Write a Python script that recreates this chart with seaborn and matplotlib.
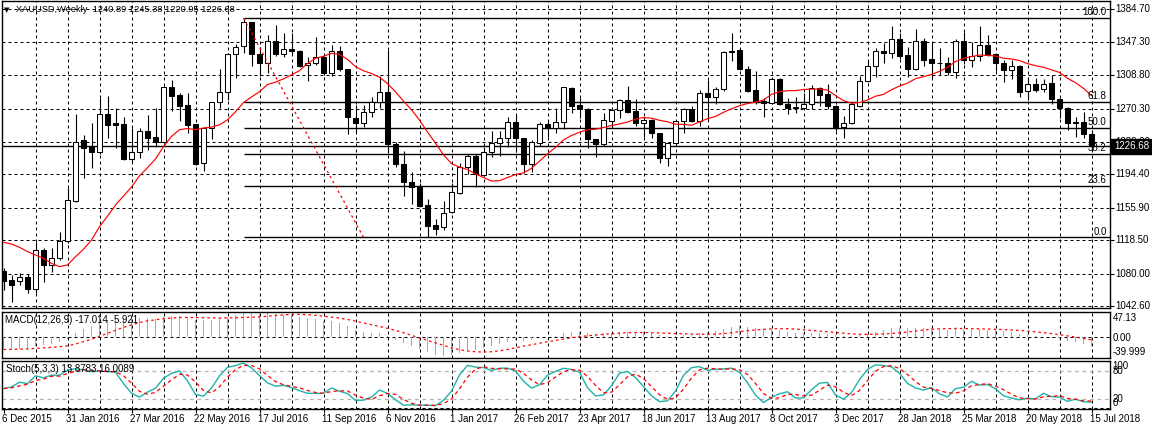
import numpy as np
import pandas as pd
import matplotlib
matplotlib.use("Agg")
import matplotlib.pyplot as plt
import seaborn as sns
from matplotlib.transforms import blended_transform_factory as btf

# ---------------- data ----------------
opens = [1083.4, 1072.6, 1071.8, 1076.4, 1062.6, 1107.2, 1089.9, 1097.6, 1117.2, 1164.1,
         1234.0, 1227.1, 1220.6, 1264.0, 1253.2, 1252.5, 1212.1, 1219.8, 1244.4, 1237.8,
         1232.1, 1294.7, 1285.9, 1274.4, 1252.5, 1207.1, 1247.5, 1277.4, 1289.0, 1332.8,
         1342.0, 1369.7, 1332.8, 1322.4, 1348.5, 1332.8, 1338.5, 1337.0, 1320.1, 1322.4,
         1329.3, 1310.9, 1337.0, 1315.5, 1259.0, 1253.2, 1265.9, 1278.2, 1289.0, 1229.4,
         1205.9, 1186.0, 1179.4, 1159.1, 1136.0, 1134.1, 1151.4, 1173.3, 1203.3, 1215.6,
         1193.7, 1220.6, 1230.2, 1235.9, 1255.1, 1235.9, 1205.9, 1230.9, 1252.1, 1247.5,
         1254.4, 1293.6, 1274.4, 1269.8, 1234.8, 1229.0, 1256.3, 1268.6, 1280.1, 1267.5,
         1254.0, 1257.1, 1241.7, 1212.9, 1230.2, 1255.9, 1269.8, 1256.3, 1287.8, 1283.2,
         1292.4, 1335.1, 1337.8, 1315.5, 1291.7, 1279.0, 1276.3, 1303.9, 1275.1, 1271.7,
         1270.5, 1275.1, 1293.6, 1286.7, 1273.6, 1248.6, 1253.2, 1273.6, 1302.0, 1319.3,
         1336.6, 1333.9, 1350.1, 1332.0, 1315.5, 1348.1, 1327.4, 1323.2, 1323.2, 1312.8,
         1348.1, 1326.2, 1331.2, 1343.5, 1333.2, 1323.2, 1314.7, 1319.7, 1290.5, 1298.2,
         1292.4, 1299.4, 1280.9, 1270.5, 1253.2, 1255.1, 1240.89]
highs = [1086.0, 1078.4, 1081.1, 1079.5, 1116.8, 1109.1, 1109.1, 1128.3, 1178.3, 1263.9,
         1239.8, 1254.0, 1282.0, 1284.7, 1270.5, 1260.9, 1247.5, 1247.5, 1262.8, 1271.3,
         1296.0, 1303.2, 1287.8, 1287.8, 1253.0, 1248.5, 1278.0, 1315.9, 1334.0, 1344.7,
         1374.3, 1370.4, 1341.6, 1355.1, 1366.6, 1357.0, 1357.8, 1337.8, 1329.3, 1352.4,
         1330.9, 1343.5, 1342.4, 1316.0, 1274.4, 1274.4, 1284.0, 1307.8, 1337.8, 1232.1,
         1221.3, 1196.7, 1184.8, 1165.6, 1142.9, 1163.7, 1184.8, 1207.1, 1217.9, 1217.9,
         1226.3, 1244.4, 1244.4, 1260.9, 1262.8, 1236.7, 1234.0, 1255.1, 1257.1, 1270.5,
         1295.5, 1294.7, 1282.0, 1270.5, 1235.5, 1265.5, 1270.5, 1280.9, 1296.3, 1281.3,
         1260.9, 1258.0, 1242.5, 1232.1, 1256.5, 1271.3, 1273.2, 1291.7, 1303.2, 1294.7,
         1337.0, 1357.8, 1338.5, 1319.3, 1313.9, 1282.8, 1305.1, 1305.1, 1282.8, 1283.2,
         1288.6, 1297.4, 1294.7, 1298.2, 1274.4, 1261.7, 1276.3, 1307.8, 1326.2, 1339.7,
         1345.5, 1365.4, 1357.0, 1341.6, 1361.6, 1351.2, 1345.5, 1339.7, 1330.1, 1350.1,
         1358.9, 1347.4, 1365.4, 1355.1, 1333.5, 1326.2, 1326.2, 1320.5, 1306.3, 1305.9,
         1303.9, 1308.9, 1282.0, 1272.4, 1260.9, 1265.9, 1245.38]
lows = [1061.1, 1047.6, 1066.8, 1058.0, 1058.0, 1070.7, 1082.2, 1096.0, 1115.0, 1162.0,
        1190.6, 1201.3, 1218.0, 1236.7, 1225.2, 1210.9, 1208.3, 1213.6, 1222.5, 1226.3,
        1231.0, 1267.8, 1256.3, 1242.4, 1205.0, 1198.7, 1234.8, 1271.3, 1280.0, 1305.1,
        1334.7, 1319.7, 1307.8, 1311.6, 1330.9, 1329.3, 1332.8, 1318.6, 1301.6, 1320.5,
        1308.9, 1307.8, 1313.9, 1240.5, 1243.6, 1248.6, 1260.1, 1270.5, 1218.6, 1202.5,
        1169.4, 1160.2, 1156.4, 1121.8, 1124.5, 1130.3, 1150.0, 1171.8, 1194.8, 1180.2,
        1192.9, 1214.8, 1215.9, 1225.6, 1220.6, 1195.6, 1197.5, 1227.1, 1237.8, 1242.4,
        1246.3, 1264.8, 1259.0, 1224.4, 1214.0, 1227.1, 1249.4, 1259.0, 1264.8, 1250.2,
        1237.8, 1235.9, 1207.1, 1204.0, 1229.4, 1242.5, 1255.1, 1250.2, 1257.1, 1275.5,
        1290.9, 1325.5, 1314.7, 1289.0, 1275.5, 1260.1, 1275.5, 1274.4, 1263.6, 1264.8,
        1269.8, 1269.4, 1273.2, 1269.4, 1244.4, 1235.9, 1252.5, 1272.0, 1301.0, 1307.0,
        1323.2, 1328.2, 1327.4, 1306.3, 1314.7, 1319.7, 1305.1, 1308.9, 1308.9, 1305.9,
        1321.2, 1318.6, 1325.5, 1330.9, 1313.6, 1301.3, 1304.3, 1283.9, 1280.1, 1289.7,
        1289.7, 1275.5, 1259.0, 1245.5, 1237.1, 1235.9, 1220.95]
closes = [1071.8, 1066.4, 1075.7, 1062.6, 1107.2, 1089.9, 1097.6, 1117.9, 1164.8, 1232.1,
          1225.2, 1220.6, 1264.0, 1251.3, 1251.7, 1212.1, 1219.8, 1244.4, 1236.7, 1232.1,
          1294.7, 1285.1, 1273.2, 1251.3, 1206.3, 1247.5, 1277.4, 1289.0, 1332.8, 1341.6,
          1369.7, 1332.8, 1322.4, 1348.5, 1332.8, 1338.5, 1337.0, 1319.7, 1323.2, 1329.3,
          1310.9, 1337.0, 1315.5, 1260.1, 1253.2, 1265.9, 1278.2, 1289.0, 1229.4, 1205.9,
          1186.0, 1179.4, 1158.3, 1135.2, 1131.4, 1149.5, 1173.7, 1203.3, 1215.6, 1194.8,
          1220.6, 1230.2, 1235.9, 1255.1, 1235.9, 1205.9, 1232.1, 1252.1, 1247.5, 1254.4,
          1294.7, 1273.6, 1269.4, 1234.8, 1229.0, 1257.1, 1268.6, 1280.1, 1266.7, 1254.0,
          1257.1, 1241.7, 1212.9, 1230.2, 1255.9, 1269.8, 1256.3, 1287.8, 1283.2, 1292.4,
          1335.1, 1337.0, 1315.5, 1290.9, 1278.2, 1276.3, 1303.9, 1275.1, 1270.5, 1270.5,
          1275.1, 1293.6, 1285.9, 1273.6, 1248.6, 1253.2, 1275.1, 1302.0, 1319.3, 1336.6,
          1333.9, 1350.1, 1331.2, 1315.5, 1347.8, 1326.2, 1322.4, 1322.4, 1312.8, 1348.1,
          1326.2, 1331.2, 1343.5, 1332.0, 1322.4, 1314.7, 1319.7, 1289.7, 1298.2, 1291.7,
          1298.2, 1280.9, 1270.5, 1253.2, 1255.1, 1240.5, 1226.68]
# moving-average values read for the first bars (history before the window)
ma_head = [1116.0, 1114.1, 1110.3, 1105.3, 1101.4, 1097.6, 1091.8, 1088.0, 1089.9,
           1099.5, 1108.0, 1118.7, 1134.1]
# starting levels of the MACD averages (estimated from the chart's first MACD bars)
ema12_start, ema26_start = 1087.0, 1112.0
date_labels = ["6 Dec 2015", "31 Jan 2016", "27 Mar 2016", "22 May 2016", "17 Jul 2016",
               "11 Sep 2016", "6 Nov 2016", "1 Jan 2017", "26 Feb 2017", "23 Apr 2017",
               "18 Jun 2017", "13 Aug 2017", "8 Oct 2017", "3 Dec 2017", "28 Jan 2018",
               "25 Mar 2018", "20 May 2018", "15 Jul 2018"]
price_ticks = [1384.70, 1347.30, 1308.80, 1270.30, 1232.00, 1194.40, 1155.90, 1118.50,
               1080.00, 1042.60]
fib_levels = [0.0, 23.6, 38.2, 50.0, 61.8, 100.0]
fib_high, fib_low = 1374.6, 1121.9
fib_bar_start, fib_bar_end = 30, 45
last_price = 1226.68
title_text = "XAUUSD,Weekly  1240.89 1245.38 1220.95 1226.68"
macd_text = "MACD(12,26,9) -17.014 -5.921"
stoch_text = "Stoch(5,3,3) 13.8783 16.0089"
macd_max, macd_min = 47.13, -39.999
macd_labels = [("47.13", 0.857), ("0.00", 0.435), ("-39.999", 0.13)]
stoch_labels = ["100", "80", "20", "0"]


def ema(values, span, start):
    alpha = 2.0 / (span + 1)
    out, e = [], start
    for v in values:
        e = e + alpha * (v - e)
        out.append(e)
    return np.array(out)


# ---------------- derived series ----------------
df = pd.DataFrame({"o": opens, "h": highs, "l": lows, "c": closes})
n = len(df)
df["x"] = np.arange(n)
ma = df["c"].rolling(14).mean()
ma.iloc[:len(ma_head)] = ma_head
df["ma"] = ma
df["macd"] = ema(closes, 12, ema12_start) - ema(closes, 26, ema26_start)
df["sig"] = df["macd"].rolling(9, min_periods=1).mean()
ll = df["l"].rolling(5, min_periods=1).min()
hh = df["h"].rolling(5, min_periods=1).max()
df["k"] = 100 * (df["c"] - ll).rolling(3, min_periods=1).sum() / (hh - ll).rolling(3, min_periods=1).sum()
df["d"] = df["k"].rolling(3, min_periods=1).mean()

# ---------------- figure ----------------
sns.set_theme(style="white")
plt.rcParams["font.family"] = ["Liberation Sans", "DejaVu Sans"]
plt.rcParams["font.size"] = 7

W, H = 1152, 430
fig = plt.figure(figsize=(W / 100, H / 100), dpi=100)
fig.patch.set_facecolor("white")


def rect(x0, y0, x1, y1):
    return [x0 / W, 1 - y1 / H, (x1 - x0) / W, (y1 - y0) / H]


X0, X1 = 2, 1110
ax = fig.add_axes(rect(X0, 1, X1, 308.3))
axm = fig.add_axes(rect(X0, 311.7, X1, 357.7))
axs = fig.add_axes(rect(X0, 360.7, X1, 409))
xlim = ((X0 - 3.5) / 8, (X1 - 3.5) / 8)

grid_kw = dict(color="black", lw=0.72, ls=(0, (3, 3)), zorder=0.5)
for a in (ax, axm, axs):
    a.set_facecolor("white")
    a.set_xlim(*xlim)
    for s in a.spines.values():
        s.set_color("black")
        s.set_linewidth(1.0)
    for gx in range(4, n, 4):
        a.axvline(gx, **grid_kw)
    a.tick_params(left=False, bottom=False, labelleft=False, labelbottom=False)

# ---- main price panel ----
ax.set_ylim(1039.95, 1394.3)
for p in price_ticks:
    ax.axhline(p, **grid_kw)
ax.set_yticks(price_ticks)
ax.tick_params(axis="y", right=True, length=3, width=0.8, color="black", labelright=False)

ax.vlines(df["x"], df["l"], df["h"], color="black", lw=0.8, zorder=2)
bull = df["c"] >= df["o"]
body_bot = np.minimum(df["o"], df["c"])
body_h = np.maximum(np.abs(df["c"] - df["o"]), 0.4)
ax.bar(df["x"][bull], body_h[bull], bottom=body_bot[bull], width=0.56,
       color="white", edgecolor="black", linewidth=0.75, zorder=3)
ax.bar(df["x"][~bull], body_h[~bull], bottom=body_bot[~bull], width=0.56,
       color="black", edgecolor="black", linewidth=0.75, zorder=3)

sns.lineplot(data=df, x="x", y="ma", ax=ax, color="#FF0000", lw=0.85, zorder=4, legend=False)

# Fibonacci retracement
for lv in fib_levels:
    p = fib_low + (fib_high - fib_low) * lv / 100
    ax.hlines(p, fib_bar_start, xlim[1], color="black", lw=1.0, zorder=2.5)
    ax.text(137.9, p + 0.8, f"{lv:.1f}", ha="right", va="bottom", fontsize=7, color="black", zorder=6)
fib_df = pd.DataFrame({"x": [fib_bar_start, fib_bar_end], "y": [fib_high, fib_low]})
sns.lineplot(data=fib_df, x="x", y="y", ax=ax, color="#FF0000", lw=0.9,
             linestyle=(0, (2, 2.5)), zorder=4, legend=False)

# current price line
ax.axhline(last_price, color="black", lw=1.0, zorder=2.5)

tr = btf(ax.transAxes, ax.transData)
for p in price_ticks:
    ax.text(1.0045, p, f"{p:.2f}", transform=tr, ha="left", va="center",
            fontsize=7, color="black", clip_on=False, zorder=5)
ax.text(1.0035, last_price, f"{last_price:.2f}", transform=tr, ha="left", va="center",
        fontsize=7, color="white", clip_on=False, zorder=10,
        bbox=dict(facecolor="black", edgecolor="black", boxstyle="square,pad=0.25"))
ax.set_xlabel("")
ax.set_ylabel("")

# ---- MACD panel ----
axm.set_ylim(macd_min, macd_max)
axm.axhline(0, **grid_kw)
axm.bar(df["x"], df["macd"], width=0.16, color="#A8A8A8", linewidth=0,
        antialiased=False, zorder=2)
sns.lineplot(data=df, x="x", y="sig", ax=axm, color="#FF0000", lw=0.9,
             linestyle=(0, (2, 2.5)), zorder=3, legend=False)
axm.set_xlabel("")
axm.set_ylabel("")
for lab, fy in macd_labels:
    axm.text(1.0025, fy, lab, transform=axm.transAxes, ha="left", va="center",
             fontsize=7, color="black", clip_on=False)
axm.text(0.003, 0.82, macd_text, transform=axm.transAxes, ha="left", va="center",
         fontsize=7, color="black")

# ---- Stochastic panel ----
axs.set_ylim(-0.86, 102.8)
for lv in (20, 80):
    axs.axhline(lv, color="#B4B4B4", lw=0.9, ls=(0, (3, 3)), zorder=0.6)
axs.axhline(2, **grid_kw)
sns.lineplot(data=df, x="x", y="k", ax=axs, color="#20B2AA", lw=1.0, zorder=3, legend=False)
sns.lineplot(data=df, x="x", y="d", ax=axs, color="#FF0000", lw=0.9,
             linestyle=(0, (3, 2.5)), zorder=3, legend=False)
axs.set_xlabel("")
axs.set_ylabel("")
trs = btf(axs.transAxes, axs.transData)
stoch_pos = {"100": 91, "80": 80, "20": 20, "0": 12.5}
for lab in stoch_labels:
    axs.text(1.0025, stoch_pos[lab], lab, transform=trs, ha="left", va="center",
             fontsize=7, color="black", clip_on=False)
axs.text(0.004, 0.83, stoch_text, transform=axs.transAxes, ha="left", va="center",
         fontsize=7, color="black")

# date labels + small ticks
axs.set_xticks(list(range(0, n, 8)))
axs.tick_params(axis="x", bottom=True, length=3, width=0.8, color="black", labelbottom=False)
trd = btf(axs.transData, fig.transFigure)
for i, lab in enumerate(date_labels):
    axs.text(i * 8 - 0.15, 1 - 419 / H, lab, transform=trd, ha="left", va="center",
             fontsize=7, color="black", clip_on=False)

# title
fig.text(4 / W, 1 - 10 / H, "\u25BC", fontsize=5, ha="left", va="center", color="black",
         family=["DejaVu Sans"])
fig.text(16 / W, 1 - 10 / H, title_text, fontsize=6.7, ha="left", va="center", color="black")

fig.savefig("out.png", dpi=100, facecolor="white")
